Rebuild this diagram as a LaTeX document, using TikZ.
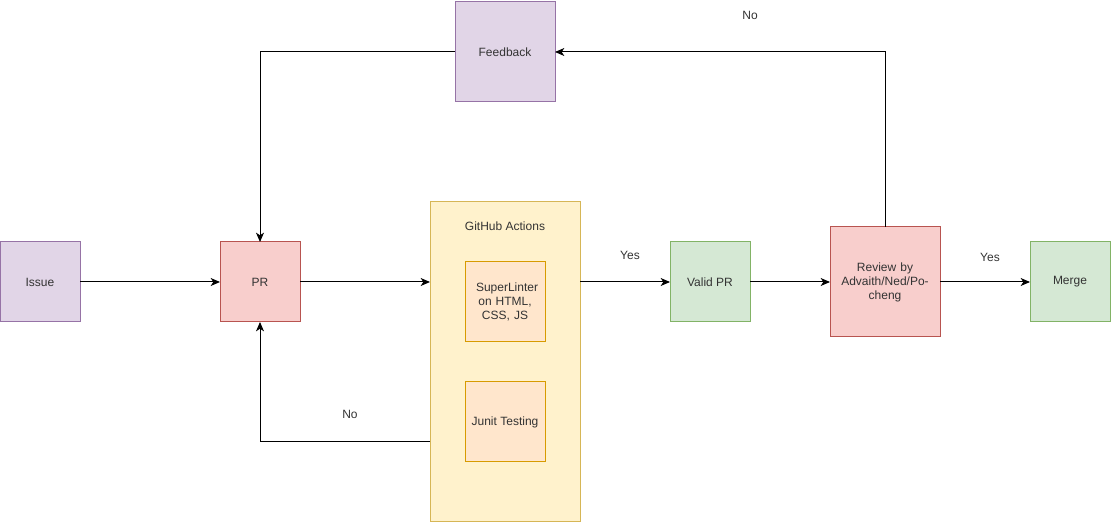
\documentclass[tikz,border=0pt]{standalone}
\usepackage{fontspec}
\setmainfont{Liberation Sans}
\usetikzlibrary{arrows.meta}
\definecolor{purpF}{HTML}{E1D5E7}\definecolor{purpS}{HTML}{9673A6}
\definecolor{redF}{HTML}{F8CECC}\definecolor{redS}{HTML}{B85450}
\definecolor{greenF}{HTML}{D5E8D4}\definecolor{greenS}{HTML}{82B366}
\definecolor{yelF}{HTML}{FFF2CC}\definecolor{yelS}{HTML}{D6B656}
\definecolor{orF}{HTML}{FFE6CC}\definecolor{orS}{HTML}{D79B00}
\definecolor{txt}{HTML}{333333}
\begin{document}
\begin{tikzpicture}[x=0.75pt,y=-0.75pt,
  font=\fontsize{9}{10.5}\selectfont,
  box/.style={draw, line width=0.75pt, inner sep=0pt, outer sep=0pt, align=center, text=txt},
  purp/.style={box, fill=purpF, draw=purpS},
  redb/.style={box, fill=redF, draw=redS},
  grn/.style={box, fill=greenF, draw=greenS},
  yel/.style={box, fill=yelF, draw=yelS},
  org/.style={box, fill=orF, draw=orS},
  conn/.style={draw=black, line width=0.75pt, -{Stealth[length=7pt,width=6pt,inset=2pt]}},
  lbl/.style={text=txt}]
\useasboundingbox (0,0) rectangle (1111,523);
% container
\node[yel, minimum width=150*0.75pt, minimum height=320*0.75pt] (gha) at (505,362) {};
\node[lbl] (ghal) at (505,226) {GitHub Actions};
\node[org, minimum width=80*0.75pt, minimum height=80*0.75pt, text width=58*0.75pt] (lint) at (505,302) {SuperLinter on HTML, CSS, JS};
\node[org, minimum width=80*0.75pt, minimum height=80*0.75pt] (junit) at (505,422) {Junit Testing};
% nodes
\node[purp, minimum width=80*0.75pt, minimum height=80*0.75pt] (issue) at (40,282) {Issue};
\node[redb, minimum width=80*0.75pt, minimum height=80*0.75pt] (pr) at (260,282) {PR};
\node[grn, minimum width=80*0.75pt, minimum height=80*0.75pt] (valid) at (710,282) {Valid PR};
\node[redb, minimum width=110*0.75pt, minimum height=110*0.75pt, text width=90*0.75pt] (review) at (885,282) {Review by Advaith/Ned/Po-cheng};
\node[grn, minimum width=80*0.75pt, minimum height=80*0.75pt] (merge) at (1070,282) {Merge};
\node[purp, minimum width=100*0.75pt, minimum height=100*0.75pt] (fb) at (505,52) {Feedback};
% connectors
\draw[conn] (issue.east) -- (pr.west);
\draw[conn] (pr.east) -- (gha.west |- pr.east);
\draw[conn] (gha.east |- valid.west) -- (valid.west);
\draw[conn] (valid.east) -- (review.west);
\draw[conn] (review.east) -- (merge.west);
\draw[conn] (review.north) |- (fb.east);
\draw[conn] (fb.west) -| (pr.north);
\coordinate (ghaout) at (430,442);
\draw[conn] (ghaout) -| (pr.south);
% labels
\node[lbl] (yes1) at (630,255) {Yes};
\node[lbl] (yes2) at (990,257) {Yes};
\node[lbl] (no1) at (750,15) {No};
\node[lbl] (no2) at (350,414) {No};
\end{tikzpicture}
\end{document}
